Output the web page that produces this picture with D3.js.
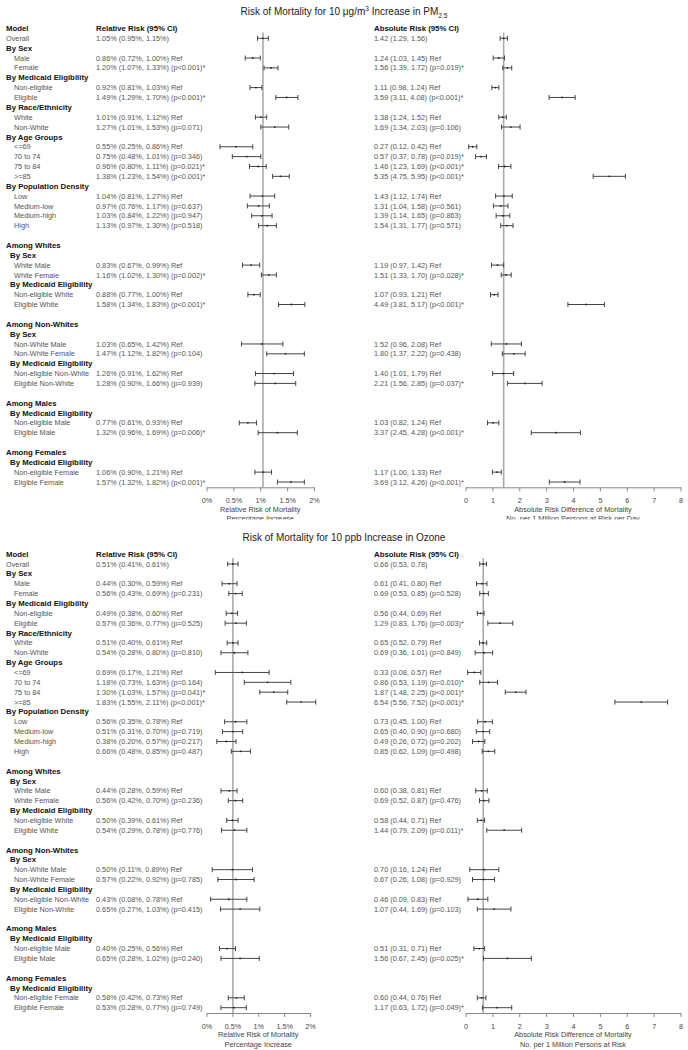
<!DOCTYPE html>
<html>
<head>
<meta charset="utf-8">
<style>
body { margin: 0; background: #fff; }
text { font-family: "Liberation Sans", Arial, sans-serif; }
</style>
</head>
<body>
<script src="https://d3js.org/d3.v7.min.js"></script>
<script>
// rows of the forest table, same layout for both panels
var rowLabels = ["Overall", "By Sex", "Male", "Female", "By Medicaid Eligibility", "Non-eligible", "Eligible",
  "By Race/Ethnicity", "White", "Non-White", "By Age Groups", "<=69", "70 to 74", "75 to 84", ">=85",
  "By Population Density", "Low", "Medium-low", "Medium-high", "High", "",
  "Among Whites", "By Sex", "White Male", "White Female", "By Medicaid Eligibility", "Non-eligible White", "Eligible White", "",
  "Among Non-Whites", "By Sex", "Non-White Male", "Non-White Female", "By Medicaid Eligibility", "Non-eligible Non-White", "Eligible Non-White", "",
  "Among Males", "By Medicaid Eligibility", "Non-eligible Male", "Eligible Male", "",
  "Among Females", "By Medicaid Eligibility", "Non-eligible Female", "Eligible Female"];
// top = plain row at margin, head = bold at margin, sub = bold indented, item = plain indented
var rowKinds = ["top", "head", "item", "item", "head", "item", "item",
  "head", "item", "item", "head", "item", "item", "item", "item",
  "head", "item", "item", "item", "item", "",
  "head", "sub", "item", "item", "sub", "item", "item", "",
  "head", "sub", "item", "item", "sub", "item", "item", "",
  "head", "sub", "item", "item", "",
  "head", "sub", "item", "item"];

// estimate, lower, upper for each data row, plus the p-value note printed after it
var pmRelNotes = ["", "Ref", "(p<0.001)*", "Ref", "(p<0.001)*", "Ref", "(p=0.071)", "Ref", "(p=0.346)", "(p=0.021)*", "(p<0.001)*",
  "Ref", "(p=0.637)", "(p=0.947)", "(p=0.518)", "Ref", "(p=0.002)*", "Ref", "(p<0.001)*", "Ref", "(p=0.104)", "Ref", "(p=0.939)",
  "Ref", "(p=0.006)*", "Ref", "(p<0.001)*"];
var pmRel = [[1.05, 0.95, 1.15], [0.86, 0.72, 1.00], [1.20, 1.07, 1.33], [0.92, 0.81, 1.03], [1.49, 1.29, 1.70],
  [1.01, 0.91, 1.12], [1.27, 1.01, 1.53], [0.55, 0.25, 0.86], [0.75, 0.48, 1.01], [0.96, 0.80, 1.11], [1.38, 1.23, 1.54],
  [1.04, 0.81, 1.27], [0.97, 0.76, 1.17], [1.03, 0.84, 1.22], [1.13, 0.97, 1.30], [0.83, 0.67, 0.99], [1.16, 1.02, 1.30],
  [0.88, 0.77, 1.00], [1.58, 1.34, 1.83], [1.03, 0.65, 1.42], [1.47, 1.12, 1.82], [1.26, 0.91, 1.62], [1.28, 0.90, 1.66],
  [0.77, 0.61, 0.93], [1.32, 0.96, 1.69], [1.06, 0.90, 1.21], [1.57, 1.32, 1.82]];
var pmAbsNotes = ["", "Ref", "(p=0.019)*", "Ref", "(p<0.001)*", "Ref", "(p=0.106)", "Ref", "(p=0.019)*", "(p<0.001)*", "(p<0.001)*",
  "Ref", "(p=0.561)", "(p=0.863)", "(p=0.571)", "Ref", "(p=0.028)*", "Ref", "(p<0.001)*", "Ref", "(p=0.438)", "Ref", "(p=0.037)*",
  "Ref", "(p<0.001)*", "Ref", "(p<0.001)*"];
var pmAbs = [[1.42, 1.29, 1.56], [1.24, 1.03, 1.45], [1.56, 1.39, 1.72], [1.11, 0.98, 1.24], [3.59, 3.11, 4.08],
  [1.38, 1.24, 1.52], [1.69, 1.34, 2.03], [0.27, 0.12, 0.42], [0.57, 0.37, 0.78], [1.46, 1.23, 1.69], [5.35, 4.75, 5.95],
  [1.43, 1.12, 1.74], [1.31, 1.04, 1.58], [1.39, 1.14, 1.65], [1.54, 1.31, 1.77], [1.19, 0.97, 1.42], [1.51, 1.33, 1.70],
  [1.07, 0.93, 1.21], [4.49, 3.81, 5.17], [1.52, 0.96, 2.08], [1.80, 1.37, 2.22], [1.40, 1.01, 1.79], [2.21, 1.56, 2.85],
  [1.03, 0.82, 1.24], [3.37, 2.45, 4.28], [1.17, 1.00, 1.33], [3.69, 3.12, 4.26]];

var ozRelNotes = ["", "Ref", "(p=0.231)", "Ref", "(p=0.525)", "Ref", "(p=0.810)", "Ref", "(p=0.164)", "(p=0.041)*", "(p<0.001)*",
  "Ref", "(p=0.719)", "(p=0.217)", "(p=0.487)", "Ref", "(p=0.236)", "Ref", "(p=0.776)", "Ref", "(p=0.785)", "Ref", "(p=0.415)",
  "Ref", "(p=0.240)", "Ref", "(p=0.749)"];
var ozRel = [[0.51, 0.41, 0.61], [0.44, 0.30, 0.59], [0.56, 0.43, 0.69], [0.49, 0.38, 0.60], [0.57, 0.36, 0.77],
  [0.51, 0.40, 0.61], [0.54, 0.28, 0.80], [0.69, 0.17, 1.21], [1.18, 0.73, 1.63], [1.30, 1.03, 1.57], [1.83, 1.55, 2.11],
  [0.56, 0.35, 0.78], [0.51, 0.31, 0.70], [0.38, 0.20, 0.57], [0.66, 0.48, 0.85], [0.44, 0.28, 0.59], [0.56, 0.42, 0.70],
  [0.50, 0.39, 0.61], [0.54, 0.29, 0.78], [0.50, 0.11, 0.89], [0.57, 0.22, 0.92], [0.43, 0.08, 0.78], [0.65, 0.27, 1.03],
  [0.40, 0.25, 0.56], [0.65, 0.28, 1.02], [0.58, 0.42, 0.73], [0.53, 0.28, 0.77]];
var ozAbsNotes = ["", "Ref", "(p=0.528)", "Ref", "(p=0.003)*", "Ref", "(p=0.849)", "Ref", "(p=0.010)*", "(p<0.001)*", "(p<0.001)*",
  "Ref", "(p=0.680)", "(p=0.202)", "(p=0.498)", "Ref", "(p=0.476)", "Ref", "(p=0.011)*", "Ref", "(p=0.929)", "Ref", "(p=0.103)",
  "Ref", "(p=0.025)*", "Ref", "(p=0.049)*"];
var ozAbs = [[0.66, 0.53, 0.78], [0.61, 0.41, 0.80], [0.69, 0.53, 0.85], [0.56, 0.44, 0.69], [1.29, 0.83, 1.76],
  [0.65, 0.52, 0.79], [0.69, 0.36, 1.01], [0.33, 0.08, 0.57], [0.86, 0.53, 1.19], [1.87, 1.48, 2.25], [6.54, 5.56, 7.52],
  [0.73, 0.45, 1.00], [0.65, 0.40, 0.90], [0.49, 0.26, 0.72], [0.85, 0.62, 1.09], [0.60, 0.38, 0.81], [0.69, 0.52, 0.87],
  [0.58, 0.44, 0.71], [1.44, 0.79, 2.09], [0.70, 0.16, 1.24], [0.67, 0.26, 1.08], [0.46, 0.09, 0.83], [1.07, 0.44, 1.69],
  [0.51, 0.31, 0.71], [1.56, 0.67, 2.45], [0.60, 0.44, 0.76], [1.17, 0.63, 1.72]];

var relTicks = [0, 0.5, 1, 1.5, 2];
var relTickLabels = ["0%", "0.5%", "1%", "1.5%", "2%"];
var absTicks = [0, 1, 2, 3, 4, 5, 6, 7, 8];

var svg = d3.select("body").append("svg")
            .attr("width", 688)
            .attr("height", 1050);

function fmt(v) { return v.toFixed(2); }

/**
 * Draws one forest plot panel (title, table text, two plots with axes)
 */
function drawPanel(id, top, clipH, titleFn, rel, relNotes, abs, absNotes, relMax, absTitle2) {
  var g = svg.append("g").attr("transform", "translate(0," + top + ")");
  if (clipH) {
    svg.append("clipPath").attr("id", id).append("rect")
       .attr("x", 0).attr("y", 0).attr("width", 688).attr("height", clipH);
    g.attr("clip-path", "url(#" + id + ")");
  }

  var y = d3.scaleLinear().domain([0, rowLabels.length - 1]).range([38.3, 482]);
  var xRel = d3.scaleLinear().domain([0, 2]).range([206.5, relMax]);
  var xAbs = d3.scaleLinear().domain([0, 8]).range([465.5, 680.5]);
  var axisY = y(rowLabels.length - 1) + 5.3;

  // title
  var t = g.append("text").attr("x", 344).attr("y", 15.3)
           .attr("text-anchor", "middle").attr("font-size", 10).attr("fill", "#222");
  titleFn(t);

  // header row
  var hy = y(-1) + 2.7;
  g.append("text").attr("x", 6).attr("y", hy).text("Model");
  g.append("text").attr("x", 96).attr("y", hy).text("Relative Risk (95% CI)");
  g.append("text").attr("x", 374).attr("y", hy).text("Absolute Risk (95% CI)");
  g.selectAll("text:not([text-anchor])").attr("font-size", 7.8).attr("font-weight", "bold").attr("fill", "#111");

  // reference lines at overall estimate
  g.append("line").attr("x1", xRel(rel[0][0])).attr("x2", xRel(rel[0][0]))
   .attr("y1", y(-0.6)).attr("y2", axisY).attr("stroke", "#aaa").attr("stroke-width", 1.6);
  g.append("line").attr("x1", xAbs(abs[0][0])).attr("x2", xAbs(abs[0][0]))
   .attr("y1", y(-0.6)).attr("y2", axisY).attr("stroke", "#aaa").attr("stroke-width", 1.6);

  var k = 0;
  for (var i = 0; i < rowLabels.length; i++) {
    var kind = rowKinds[i];
    if (kind == "") continue;
    var ty = y(i) + 2.6;
    var lx = (kind == "item") ? 14 : (kind == "sub" ? 10 : 6);
    var bold = (kind == "head" || kind == "sub");
    g.append("text").attr("x", lx).attr("y", ty)
     .attr("font-size", bold ? 7.8 : 7.3)
     .attr("font-weight", bold ? "bold" : "normal")
     .attr("fill", bold ? "#111" : "#555")
     .text(rowLabels[i]);
    if (bold) continue;

    var r = rel[k], a = abs[k];
    g.append("text").attr("x", 96).attr("y", ty).attr("font-size", 7.3).attr("fill", "#555")
     .text(fmt(r[0]) + "% (" + fmt(r[1]) + "%, " + fmt(r[2]) + "%)" + (relNotes[k] ? " " + relNotes[k] : ""));
    g.append("text").attr("x", 374).attr("y", ty).attr("font-size", 7.3).attr("fill", "#555")
     .text(fmt(a[0]) + " (" + fmt(a[1]) + ", " + fmt(a[2]) + ")" + (absNotes[k] ? " " + absNotes[k] : ""));

    errorBar(g, xRel, y(i), r);
    errorBar(g, xAbs, y(i), a);
    k++;
  }

  // axes
  var ra = g.append("g").attr("transform", "translate(0," + axisY + ")")
            .call(d3.axisBottom(xRel).tickValues(relTicks)
                    .tickFormat(function (d, i) { return relTickLabels[i]; })
                    .tickSize(4).tickSizeOuter(0).tickPadding(6.5));
  var aa = g.append("g").attr("transform", "translate(0," + axisY + ")")
            .call(d3.axisBottom(xAbs).tickValues(absTicks)
                    .tickFormat(d3.format("d"))
                    .tickSize(4).tickSizeOuter(0).tickPadding(6.5));
  [ra, aa].forEach(function (ax) {
    ax.select(".domain").attr("stroke", "#888");
    ax.selectAll(".tick line").attr("stroke", "#888");
    ax.selectAll(".tick text").attr("font-family", "Liberation Sans, Arial, sans-serif")
      .attr("font-size", 7.2).attr("fill", "#444");
  });

  var cr = (xRel.range()[0] + xRel.range()[1]) / 2;
  var ca = (xAbs.range()[0] + xAbs.range()[1]) / 2;
  g.append("text").attr("x", cr).attr("y", axisY + 24.4).attr("text-anchor", "middle")
   .attr("font-size", 7.3).attr("fill", "#444").text("Relative Risk of Mortality");
  g.append("text").attr("x", cr).attr("y", axisY + 33.6).attr("text-anchor", "middle")
   .attr("font-size", 7.3).attr("fill", "#444").text("Percentage Increase");
  g.append("text").attr("x", ca).attr("y", axisY + 24.4).attr("text-anchor", "middle")
   .attr("font-size", 7.3).attr("fill", "#444").text("Absolute Risk Difference of Mortality");
  g.append("text").attr("x", ca).attr("y", axisY + 33.6).attr("text-anchor", "middle")
   .attr("font-size", 7.3).attr("fill", "#444").text(absTitle2);
}

//line with end caps and a small dot at the estimate
function errorBar(g, x, cy, v) {
  g.append("line").attr("x1", x(v[1])).attr("x2", x(v[2])).attr("y1", cy).attr("y2", cy)
   .attr("stroke", "#444").attr("stroke-width", 1);
  g.append("line").attr("x1", x(v[1])).attr("x2", x(v[1])).attr("y1", cy - 2.5).attr("y2", cy + 2.5)
   .attr("stroke", "#444").attr("stroke-width", 1);
  g.append("line").attr("x1", x(v[2])).attr("x2", x(v[2])).attr("y1", cy - 2.5).attr("y2", cy + 2.5)
   .attr("stroke", "#444").attr("stroke-width", 1);
  g.append("circle").attr("cx", x(v[0])).attr("cy", cy).attr("r", 0.9).attr("fill", "#222");
}

drawPanel("clipTop", 0, 519.5, function (t) {
  t.append("tspan").text("Risk of Mortality for 10 \u03bcg/m");
  t.append("tspan").attr("font-size", 6.5).attr("dy", -4).text("3");
  t.append("tspan").attr("dy", 4).text(" Increase in PM");
  t.append("tspan").attr("font-size", 6.5).attr("dy", 2.5).text("2.5");
}, pmRel, pmRelNotes, pmAbs, pmAbsNotes, 314, "No. per 1 Million Persons at Risk per Day");

drawPanel("clipBottom", 525.7, 0, function (t) {
  t.text("Risk of Mortality for 10 ppb Increase in Ozone");
}, ozRel, ozRelNotes, ozAbs, ozAbsNotes, 310, "No. per 1 Million Persons at Risk");
</script>
</html>
